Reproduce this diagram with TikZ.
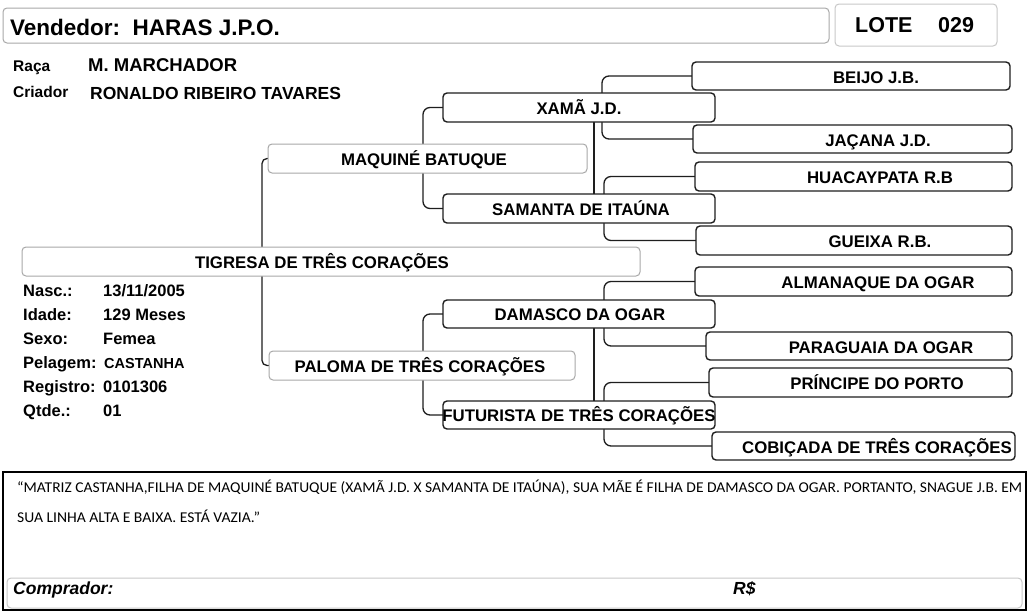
\documentclass[tikz,border=0pt]{standalone}
\usepackage{fontspec}
\usepackage{graphicx}
\setmainfont{Liberation Sans}
\newfontfamily\cfont{Carlito}
\usetikzlibrary{backgrounds}
\definecolor{gline}{HTML}{A8A8A8}
\definecolor{lline}{HTML}{C8C8C8}
\definecolor{dline}{HTML}{1E1E1E}
\newcommand\fs[1]{\fontsize{#1}{#1}\selectfont}
\newcommand\pbox[6]{\node[#1, minimum width={#5-#3}, minimum height={#6-#4}] (#2) at ({(#3+#5)/2},{(#4+#6)/2}) {};}
\begin{document}
\begin{tikzpicture}[x=1pt,y=-1pt,
  box/.style={rounded corners=4pt, fill=white, inner sep=0pt, outer sep=0pt},
  lbox/.style={box, draw=gline, line width=1pt},
  dbox/.style={box, draw=dline, line width=1.4pt},
  conn/.style={draw=dline, line width=1.3pt, rounded corners=7pt},
  nm/.style={anchor=base, inner sep=0pt, font=\bfseries\fs{16.8}},
  lab/.style={anchor=base west, inner sep=0pt, font=\bfseries\fs{16.5}},
]
\useasboundingbox (0,0) rectangle (1028,613);
\begin{pgfonlayer}{background}
\fill[white] (0,0) rectangle (1028,613);
\end{pgfonlayer}

% header
\pbox{lbox, draw=gline}{vend}{3}{8}{829}{43}
\pbox{lbox, draw=lline}{lote}{835}{4}{997}{46}
\node[anchor=base west, inner sep=0pt, font=\bfseries\fs{22.5}] (vendT) at (10,35) {Vendedor:\ \ HARAS J.P.O.};
\node[anchor=base west, inner sep=0pt, font=\bfseries\fs{21.5}] (loteT) at (855,32) {LOTE};
\node[anchor=base west, inner sep=0pt, font=\bfseries\fs{21.5}] (loteN) at (938,32) {029};

\node[anchor=base west, inner sep=0pt, font=\bfseries\fs{15.5}] (racaL) at (13,71) {Raça};
\node[anchor=base west, inner sep=0pt, font=\bfseries\fs{18.5}] (racaV) at (88,71) {M. MARCHADOR};
\node[anchor=base west, inner sep=0pt, font=\bfseries\fs{15.5}] (criL) at (13,97) {Criador};
\node[anchor=base west, inner sep=0pt, font=\bfseries\fs{17.5}] (criV) at (90,99) {RONALDO RIBEIRO TAVARES};

% pedigree boxes
\pbox{lbox}{tig}{22}{247}{640}{276}
\pbox{lbox}{maq}{268}{144}{587}{173}
\pbox{lbox}{pal}{269}{351}{575}{380}
\pbox{dbox}{xam}{443}{93}{715}{122}
\pbox{dbox}{sam}{443}{194}{715}{223}
\pbox{dbox}{dam}{443}{300}{715}{328}
\pbox{dbox}{fut}{443}{401}{715}{429}
\pbox{dbox}{bei}{692}{62}{1010}{90}
\pbox{dbox}{jac}{693}{125}{1012}{153}
\pbox{dbox}{hua}{695}{162}{1012}{191}
\pbox{dbox}{gue}{696}{226}{1012}{255}
\pbox{dbox}{alm}{695}{267}{1012}{296}
\pbox{dbox}{par}{706}{332}{1012}{360}
\pbox{dbox}{pri}{709}{368}{1012}{397}
\pbox{dbox}{cob}{712}{432}{1015}{460}

% connectors (behind boxes)
\coordinate (tigbus) at (262,262);
\coordinate (maqbus) at (423,158);
\coordinate (palbus) at (423,365);
\coordinate (xambus) at (602,108);
\coordinate (sambus) at (604,208);
\coordinate (dambus) at (604,314);
\coordinate (futbus) at (604,415);
\coordinate (linkA) at (594,150);
\coordinate (linkB) at (594,360);
\begin{pgfonlayer}{background}
\draw[conn, rounded corners=5pt] (maq.west) -| (tigbus) |- (pal.west);
\draw[conn] (xam.west) -| (maqbus) |- (sam.west);
\draw[conn] (dam.west) -| (palbus) |- (fut.west);
\draw[conn] (bei.west) -| (xambus) |- (jac.west);
\draw[conn] (hua.west) -| (sambus) |- (gue.west);
\draw[conn] (alm.west) -| (dambus) |- (par.west);
\draw[conn] (pri.west) -| (futbus) |- (cob.west);
\draw[conn] (xam.south -| linkA) -- (sam.north -| linkA);
\draw[conn] (dam.south -| linkB) -- (fut.north -| linkB);
\end{pgfonlayer}

% names
\node[nm] (tigT) at (322,268) {TIGRESA DE TRÊS CORAÇÕES};
\node[nm] (maqT) at (424,165) {MAQUINÉ BATUQUE};
\node[nm] (palT) at (420,372) {PALOMA DE TRÊS CORAÇÕES};
\node[nm] (xamT) at (579,114) {XAMÃ J.D.};
\node[nm] (samT) at (581,215) {SAMANTA DE ITAÚNA};
\node[nm] (damT) at (580,320) {DAMASCO DA OGAR};
\node[nm] (futT) at (579,421) {FUTURISTA DE TRÊS CORAÇÕES};
\node[nm] (beiT) at (876,83) {BEIJO J.B.};
\node[nm] (jacT) at (878,146) {JAÇANA J.D.};
\node[nm] (huaT) at (880,183) {HUACAYPATA R.B};
\node[nm] (gueT) at (880,247) {GUEIXA R.B.};
\node[nm] (almT) at (878,288) {ALMANAQUE DA OGAR};
\node[nm] (parT) at (881,353) {PARAGUAIA DA OGAR};
\node[nm] (priT) at (877,389) {PRÍNCIPE DO PORTO};
\node[nm] (cobT) at (877,453) {COBIÇADA DE TRÊS CORAÇÕES};

% info block
\node[lab] (l1) at (23,296.5) {Nasc.:};      \node[lab] (v1) at (103,296.5) {13/11/2005};
\node[lab] (l2) at (23,320.5) {Idade:};      \node[lab] (v2) at (103,320.5) {129 Meses};
\node[lab] (l3) at (23,344.5) {Sexo:};       \node[lab] (v3) at (103,344.5) {Femea};
\node[lab] (l4) at (23,368.5) {Pelagem:};    \node[lab, font=\bfseries\fs{14.5}] (v4) at (104,368.5) {CASTANHA};
\node[lab] (l5) at (23,392.5) {Registro:};   \node[lab] (v5) at (103,392.5) {0101306};
\node[lab] (l6) at (23,416.5) {Qtde.:};      \node[lab] (v6) at (103,416.5) {01};

% notes box
\pbox{draw=black, line width=2pt, inner sep=0pt, outer sep=0pt}{notes}{3}{472}{1026}{610}
\pbox{lbox, draw=lline}{buyer}{7}{578}{1022}{608}
\node[anchor=base west, inner sep=0pt] (q1) at (17,492) {\resizebox{1005pt}{\height}{\cfont\fs{15}“MATRIZ CASTANHA,FILHA DE MAQUINÉ BATUQUE (XAMÃ J.D. X SAMANTA DE ITAÚNA), SUA MÃE É FILHA DE DAMASCO DA OGAR. PORTANTO, SNAGUE J.B. EM}};
\node[anchor=base west, inner sep=0pt] (q2) at (17,522) {\resizebox{243pt}{\height}{\cfont\fs{15}SUA LINHA ALTA E BAIXA. ESTÁ VAZIA.”}};
\node[anchor=base west, inner sep=0pt, font=\bfseries\itshape\fs{17.5}] (compT) at (13,594) {Comprador:};
\node[anchor=base west, inner sep=0pt, font=\bfseries\itshape\fs{17.5}] (rsT) at (733,594) {R\$};
\end{tikzpicture}
\end{document}
